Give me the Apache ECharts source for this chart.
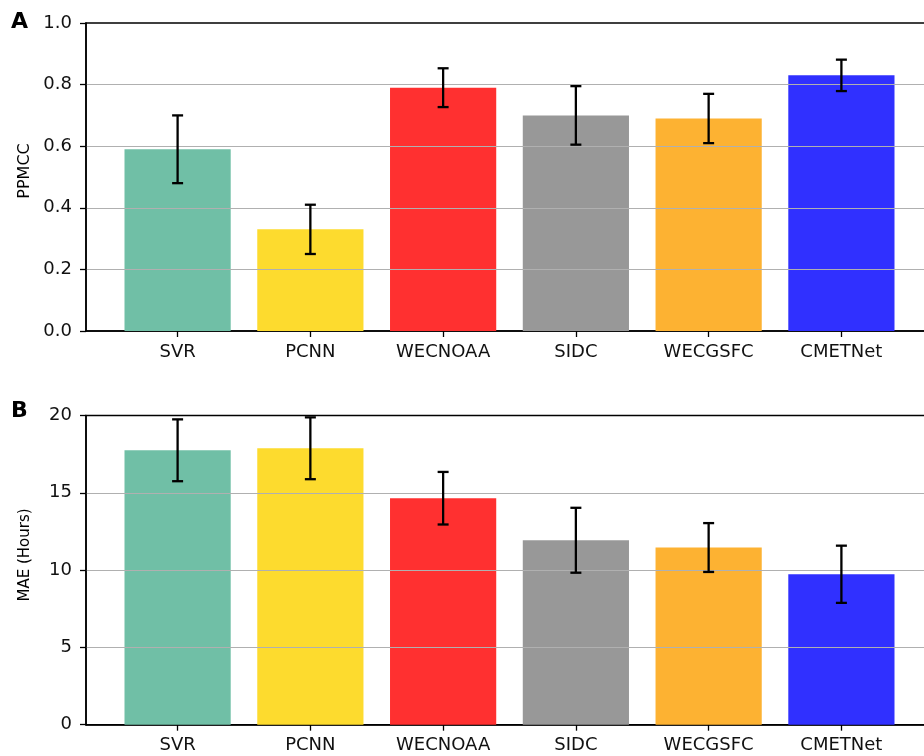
<!DOCTYPE html>
<html>
<head>
<meta charset="utf-8">
<script src="https://cdn.jsdelivr.net/npm/echarts@6/dist/echarts.min.js"></script>
<style>
  html, body { margin: 0; padding: 0; background: #fff; overflow: hidden; }
  #chart { width: 940px; height: 756px; }
</style>
</head>
<body>
<div id="chart"></div>
<script>
// Model names along the x axis
const categories = ['SVR', 'PCNN', 'WECNOAA', 'SIDC', 'WECGSFC', 'CMETNet'];
const barColors = ['#70BFA6', '#FDDB2E', '#FF3030', '#989898', '#FDB232', '#3030FF'];

// Panel A: correlation coefficient, mean and +/- error
const ppmccMean = [0.59, 0.33, 0.79, 0.70, 0.69, 0.83];
const ppmccErr  = [0.11, 0.08, 0.063, 0.095, 0.08, 0.051];

// Panel B: mean absolute error in hours, mean and +/- error
const maeMean = [17.75, 17.88, 14.65, 11.93, 11.46, 9.73];
const maeErr  = [2.0, 2.0, 1.7, 2.1, 1.58, 1.85];

const ppmccTicks = [0, 0.2, 0.4, 0.6, 0.8, 1.0];
const maeTicks = [0, 5, 10, 15, 20];

const FONT = 'DejaVu Sans';
const HALF_BAR = 0.4;
const CAP_PX = 5.5;

function barItem(params, api) {
  const i = api.value(0);
  const v = api.value(1);
  const p0 = api.coord([i - HALF_BAR, v]);
  const p1 = api.coord([i + HALF_BAR, 0]);
  return {
    type: 'rect',
    shape: { x: p0[0], y: p0[1], width: p1[0] - p0[0], height: p1[1] - p0[1] },
    style: { fill: barColors[i] }
  };
}

function errItem(params, api) {
  const i = api.value(0);
  const lo = api.coord([i, api.value(1)]);
  const hi = api.coord([i, api.value(2)]);
  const st = { stroke: '#000', lineWidth: 2.3 };
  return {
    type: 'group',
    children: [
      { type: 'line', shape: { x1: lo[0], y1: lo[1], x2: hi[0], y2: hi[1] }, style: st },
      { type: 'line', shape: { x1: lo[0] - CAP_PX, y1: lo[1], x2: lo[0] + CAP_PX, y2: lo[1] }, style: st },
      { type: 'line', shape: { x1: hi[0] - CAP_PX, y1: hi[1], x2: hi[0] + CAP_PX, y2: hi[1] }, style: st }
    ]
  };
}

const idx = categories.map((_, i) => i);

function xAxisFor(gridIndex) {
  return {
    type: 'value', gridIndex, min: -0.69, max: 5.69,
    axisLine: { show: true, onZero: false, lineStyle: { color: '#000', width: 1.5 } },
    axisTick: { show: true, customValues: idx, length: 6, lineStyle: { color: '#000', width: 1.3 } },
    axisLabel: {
      customValues: idx, formatter: v => categories[Math.round(v)],
      color: '#111', fontFamily: FONT, fontSize: 18, margin: 12
    },
    splitLine: { show: false }
  };
}

function yAxisFor(gridIndex, ticks, fmt) {
  return {
    type: 'value', gridIndex, min: ticks[0], max: ticks[ticks.length - 1],
    interval: ticks[1] - ticks[0], z: 3,
    axisLine: { show: true, onZero: false, lineStyle: { color: '#000', width: 1.5 } },
    axisTick: { show: true, length: 6, lineStyle: { color: '#000', width: 1.3 } },
    axisLabel: { formatter: fmt, color: '#111', fontFamily: FONT, fontSize: 18, margin: 14 },
    splitLine: { show: true, showMinLine: false, showMaxLine: false, lineStyle: { color: '#b0b0b0', width: 1.2 } }
  };
}

const chart = echarts.init(document.getElementById('chart'), null, { renderer: 'canvas' });
chart.setOption({
  backgroundColor: '#fff',
  animation: false,
  grid: [
    { left: 86, top: 23, width: 847, height: 308, show: true, borderColor: '#000', borderWidth: 1.5, backgroundColor: 'transparent' },
    { left: 86, top: 415.5, width: 847, height: 309.2, show: true, borderColor: '#000', borderWidth: 1.5, backgroundColor: 'transparent' }
  ],
  xAxis: [xAxisFor(0), xAxisFor(1)],
  yAxis: [
    yAxisFor(0, ppmccTicks, v => v.toFixed(1)),
    yAxisFor(1, maeTicks, v => String(v))
  ],
  series: [
    {
      type: 'custom', xAxisIndex: 0, yAxisIndex: 0, z: 2, renderItem: barItem,
      data: ppmccMean.map((v, i) => [i, v])
    },
    {
      type: 'custom', xAxisIndex: 0, yAxisIndex: 0, z: 5, renderItem: errItem,
      data: ppmccMean.map((v, i) => [i, v - ppmccErr[i], v + ppmccErr[i]])
    },
    {
      type: 'custom', xAxisIndex: 1, yAxisIndex: 1, z: 2, renderItem: barItem,
      data: maeMean.map((v, i) => [i, v])
    },
    {
      type: 'custom', xAxisIndex: 1, yAxisIndex: 1, z: 5, renderItem: errItem,
      data: maeMean.map((v, i) => [i, v - maeErr[i], v + maeErr[i]])
    }
  ],
  graphic: [
    { type: 'text', x: 11, y: 22, style: { text: 'A', font: 'bold 22px "DejaVu Sans"', fill: '#000', textAlign: 'left', textVerticalAlign: 'middle' } },
    { type: 'text', x: 11, y: 411, style: { text: 'B', font: 'bold 22px "DejaVu Sans"', fill: '#000', textAlign: 'left', textVerticalAlign: 'middle' } },
    { type: 'text', x: 25, y: 171, rotation: Math.PI / 2, style: { text: 'PPMCC', font: '16px "DejaVu Sans"', fill: '#000', textAlign: 'center', textVerticalAlign: 'middle' } },
    { type: 'text', x: 25, y: 555, rotation: Math.PI / 2, style: { text: 'MAE (Hours)', font: '15px "DejaVu Sans"', fill: '#000', textAlign: 'center', textVerticalAlign: 'middle' } }
  ]
});
</script>
</body>
</html>
